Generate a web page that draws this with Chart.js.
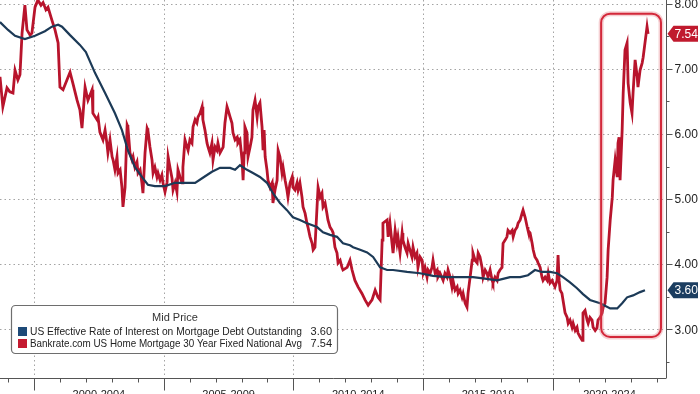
<!DOCTYPE html>
<html>
<head>
<meta charset="utf-8">
<script src="https://cdn.jsdelivr.net/npm/chart.js@4.4.0/dist/chart.umd.min.js"></script>
<style>
  html, body { margin: 0; padding: 0; background: #fff; }
  canvas { display: block; }
</style>
</head>
<body>
<canvas id="chart" width="700" height="394"></canvas>
<script>
// US effective rate of interest on mortgage debt outstanding (decimal years / %)
const effYears = [1998.69, 1999.00, 1999.27, 1999.65, 2000.04, 2000.42, 2000.69, 2000.93, 2001.08, 2001.39,
  2001.77, 2002.00, 2002.35, 2002.74, 2003.12, 2003.39, 2003.62, 2003.89, 2004.16, 2004.39,
  2004.66, 2005.05, 2005.44, 2005.82, 2006.21, 2006.48, 2006.86, 2007.17, 2007.56, 2007.75,
  2007.94, 2008.21, 2008.44, 2008.71, 2008.98, 2009.21, 2009.48, 2009.75, 2009.98, 2010.25,
  2010.52, 2010.91, 2011.14, 2011.41, 2011.68, 2011.91, 2012.18, 2012.30, 2012.57, 2012.84,
  2013.07, 2013.34, 2013.61, 2013.84, 2014.38, 2014.88, 2015.38, 2015.92, 2016.42, 2016.92,
  2017.31, 2017.85, 2018.35, 2018.74, 2019.04, 2019.31, 2019.58, 2019.89, 2020.16, 2020.39,
  2020.66, 2020.93, 2021.16, 2021.43, 2021.82, 2022.21, 2022.48, 2022.67, 2022.86, 2023.09,
  2023.36, 2023.55];
const effRates = [7.72, 7.60, 7.51, 7.46, 7.51, 7.58, 7.65, 7.68, 7.65, 7.52,
  7.37, 7.26, 6.94, 6.63, 6.32, 6.06, 5.75, 5.49, 5.34, 5.22,
  5.20, 5.20, 5.25, 5.25, 5.25, 5.32, 5.42, 5.48, 5.48, 5.45,
  5.52, 5.45, 5.40, 5.34, 5.25, 5.09, 4.94, 4.83, 4.72, 4.68,
  4.63, 4.57, 4.49, 4.45, 4.42, 4.32, 4.29, 4.26, 4.22, 4.18,
  4.11, 3.95, 3.91, 3.91, 3.88, 3.86, 3.82, 3.80, 3.80, 3.80,
  3.78, 3.75, 3.80, 3.80, 3.83, 3.91, 3.88, 3.88, 3.86, 3.80,
  3.72, 3.63, 3.54, 3.45, 3.40, 3.32, 3.32, 3.40, 3.49, 3.52,
  3.57, 3.60];

// Bankrate.com US home mortgage 30 year fixed national avg (decimal years / %)
const bankYears = [1998.69, 1998.80, 1998.96, 1999.07, 1999.19, 1999.27, 1999.38, 1999.46, 1999.54, 1999.65,
  1999.73, 1999.85, 1999.92, 2000.04, 2000.15, 2000.27, 2000.35, 2000.46, 2000.54, 2000.69,
  2000.81, 2000.93, 2001.00, 2001.12, 2001.27, 2001.39, 2001.50, 2001.66, 2001.77, 2001.85,
  2001.97, 2002.08, 2002.24, 2002.27, 2002.43, 2002.47, 2002.54, 2002.66, 2002.74, 2002.81,
  2002.85, 2002.93, 2003.01, 2003.05, 2003.12, 2003.20, 2003.24, 2003.32, 2003.39, 2003.43,
  2003.51, 2003.59, 2003.62, 2003.70, 2003.78, 2003.82, 2003.89, 2003.97, 2004.01, 2004.09,
  2004.16, 2004.20, 2004.28, 2004.36, 2004.39, 2004.47, 2004.55, 2004.59, 2004.66, 2004.74,
  2004.78, 2004.86, 2004.93, 2004.97, 2005.05, 2005.13, 2005.17, 2005.24, 2005.32, 2005.36,
  2005.44, 2005.51, 2005.55, 2005.63, 2005.71, 2005.74, 2005.82, 2005.90, 2005.94, 2006.01,
  2006.09, 2006.13, 2006.21, 2006.28, 2006.32, 2006.40, 2006.48, 2006.51, 2006.59, 2006.67,
  2006.71, 2006.78, 2006.86, 2006.90, 2006.98, 2007.05, 2007.09, 2007.17, 2007.29, 2007.36,
  2007.44, 2007.48, 2007.56, 2007.63, 2007.67, 2007.75, 2007.83, 2007.86, 2007.94, 2008.02,
  2008.06, 2008.10, 2008.13, 2008.21, 2008.25, 2008.33, 2008.40, 2008.44, 2008.52, 2008.60,
  2008.64, 2008.71, 2008.79, 2008.83, 2008.87, 2008.91, 2008.98, 2009.02, 2009.10, 2009.18,
  2009.21, 2009.29, 2009.37, 2009.41, 2009.48, 2009.56, 2009.60, 2009.68, 2009.75, 2009.79,
  2009.87, 2009.95, 2009.98, 2010.06, 2010.14, 2010.18, 2010.25, 2010.33, 2010.37, 2010.45,
  2010.52, 2010.56, 2010.64, 2010.72, 2010.76, 2010.83, 2010.91, 2010.95, 2011.03, 2011.10,
  2011.14, 2011.22, 2011.29, 2011.33, 2011.41, 2011.49, 2011.53, 2011.60, 2011.68, 2011.72,
  2011.80, 2011.87, 2011.91, 2012.07, 2012.18, 2012.26, 2012.37, 2012.49, 2012.64, 2012.76,
  2012.88, 2013.03, 2013.15, 2013.26, 2013.34, 2013.42, 2013.45, 2013.61, 2013.65, 2013.72,
  2013.80, 2013.84, 2013.92, 2013.99, 2014.03, 2014.11, 2014.19, 2014.22, 2014.30, 2014.38,
  2014.42, 2014.49, 2014.57, 2014.61, 2014.69, 2014.76, 2014.80, 2014.88, 2014.96, 2015.00,
  2015.07, 2015.15, 2015.19, 2015.27, 2015.34, 2015.38, 2015.46, 2015.54, 2015.57, 2015.65,
  2015.77, 2015.84, 2015.92, 2015.96, 2016.04, 2016.11, 2016.15, 2016.23, 2016.31, 2016.35,
  2016.42, 2016.50, 2016.54, 2016.62, 2016.69, 2016.73, 2016.81, 2016.89, 2016.92, 2017.00,
  2017.08, 2017.12, 2017.19, 2017.27, 2017.31, 2017.39, 2017.46, 2017.50, 2017.58, 2017.66,
  2017.69, 2017.77, 2017.85, 2017.89, 2017.96, 2018.04, 2018.08, 2018.16, 2018.23, 2018.27,
  2018.35, 2018.43, 2018.47, 2018.54, 2018.62, 2018.66, 2018.74, 2018.81, 2018.85, 2018.93,
  2019.01, 2019.04, 2019.12, 2019.20, 2019.24, 2019.31, 2019.39, 2019.43, 2019.51, 2019.58,
  2019.62, 2019.70, 2019.78, 2019.82, 2019.89, 2019.97, 2020.01, 2020.08, 2020.16, 2020.20,
  2020.24, 2020.28, 2020.35, 2020.39, 2020.47, 2020.55, 2020.59, 2020.66, 2020.74, 2020.78,
  2020.86, 2020.93, 2020.97, 2021.05, 2021.13, 2021.16, 2021.24, 2021.32, 2021.36, 2021.43,
  2021.51, 2021.55, 2021.63, 2021.70, 2021.74, 2021.82, 2021.90, 2021.94, 2022.01, 2022.09,
  2022.13, 2022.21, 2022.29, 2022.32, 2022.40, 2022.48, 2022.51, 2022.55, 2022.59, 2022.67,
  2022.71, 2022.78, 2022.86, 2022.90, 2022.98, 2023.05, 2023.09, 2023.17, 2023.25, 2023.28,
  2023.36, 2023.44, 2023.48, 2023.55, 2023.63, 2023.67];
const bankRates = [6.88, 6.42, 6.71, 6.65, 6.63, 6.98, 6.83, 6.91, 7.55, 7.98,
  7.60, 7.52, 7.55, 7.95, 8.06, 7.98, 8.02, 7.91, 7.95, 7.75,
  7.60, 7.40, 6.72, 6.68, 6.83, 6.95, 6.78, 6.52, 6.37, 6.09,
  6.72, 6.52, 6.68, 6.32, 6.22, 6.26, 6.03, 5.91, 6.06, 5.86,
  5.71, 5.91, 5.65, 5.60, 5.45, 5.65, 5.40, 5.45, 5.18, 4.88,
  5.18, 6.14, 6.11, 5.71, 5.60, 5.65, 5.49, 5.57, 5.40, 5.45,
  5.25, 5.09, 5.71, 6.09, 6.06, 5.80, 5.60, 5.40, 5.49, 5.34,
  5.40, 5.29, 5.37, 5.25, 5.11, 5.26, 5.65, 5.49, 5.32, 5.14,
  5.25, 5.11, 5.45, 5.34, 5.25, 5.49, 5.91, 5.80, 5.75, 5.91,
  5.86, 6.11, 6.22, 6.17, 6.26, 6.32, 6.42, 6.22, 6.06, 5.86,
  5.80, 5.71, 5.86, 5.60, 5.80, 5.75, 5.86, 5.71, 5.80, 6.17,
  6.42, 6.37, 6.26, 6.17, 6.02, 5.91, 5.95, 5.86, 5.91, 5.60,
  5.29, 5.71, 6.11, 6.02, 5.65, 5.80, 5.95, 6.37, 6.52, 6.26,
  6.42, 6.48, 6.11, 5.75, 6.06, 5.65, 5.45, 5.29, 5.18, 5.25,
  4.94, 5.14, 5.29, 5.75, 5.65, 5.40, 5.49, 5.29, 5.14, 5.03,
  5.25, 5.34, 5.18, 5.14, 5.25, 5.14, 5.25, 5.03, 4.88, 4.78,
  4.63, 4.57, 4.42, 4.32, 4.22, 4.26, 4.88, 5.18, 5.03, 5.09,
  4.88, 4.94, 4.78, 4.68, 4.57, 4.52, 4.48, 4.26, 4.17, 4.02,
  4.06, 3.95, 3.91, 3.95, 4.06, 3.91, 3.75, 3.65, 3.55, 3.45,
  3.37, 3.45, 3.60, 3.49, 3.45, 4.37, 4.63, 4.68, 4.42, 4.63,
  4.32, 4.17, 4.52, 4.32, 4.42, 4.17, 4.48, 4.37, 4.26, 4.17,
  4.32, 4.22, 4.11, 4.26, 4.11, 4.17, 3.95, 4.11, 4.06, 3.86,
  3.95, 3.80, 3.91, 3.86, 3.95, 4.06, 3.86, 3.91, 3.80, 3.86,
  3.75, 3.86, 3.80, 3.91, 3.80, 3.65, 3.75, 3.60, 3.65, 3.55,
  3.60, 3.49, 3.55, 3.40, 3.34, 3.55, 3.80, 4.06, 4.17, 4.06,
  4.02, 4.17, 4.11, 3.95, 3.80, 3.91, 3.86, 3.80, 3.91, 3.75,
  3.71, 3.80, 3.75, 3.86, 3.91, 3.95, 4.32, 4.37, 4.42, 4.52,
  4.48, 4.52, 4.42, 4.52, 4.57, 4.63, 4.68, 4.78, 4.83, 4.72,
  4.57, 4.52, 4.48, 4.32, 4.22, 4.11, 4.06, 4.02, 3.95, 3.80,
  3.75, 3.80, 3.75, 3.86, 3.71, 3.75, 3.71, 3.65, 3.75, 4.14,
  3.75, 3.60, 3.55, 3.45, 3.25, 3.18, 3.09, 3.14, 3.03, 3.09,
  2.98, 3.03, 2.94, 2.88, 2.83, 3.25, 3.29, 3.14, 3.09, 3.18,
  3.14, 3.03, 2.98, 3.02, 3.14, 3.18, 3.25, 3.34, 3.40, 3.80,
  4.22, 4.68, 5.03, 5.29, 5.60, 5.34, 5.86, 5.95, 5.29, 6.06,
  6.63, 7.29, 7.40, 6.78, 6.48, 6.32, 6.63, 7.14, 6.88, 6.72,
  6.98, 7.09, 7.18, 7.40, 7.65, 7.54];

const seriesNames = ["US Effective Rate of Interest on Mortgage Debt Outstanding",
  "Bankrate.com US Home Mortgage 30 Year Fixed National Avg"];
const lastValues = ["3.60", "7.54"];
const legendTitle = "Mid Price";
const yTicks = [3, 4, 5, 6, 7, 8];
const xBreaks = [2000, 2005, 2010, 2015, 2020];
const periodLabels = ["2000-2004", "2005-2009", "2010-2014", "2015-2019", "2020-2024"];
const highlightFrom = 2021.86;

const BLUE = "#1c3a57";
const RED = "#b8142c";
const FONT = '"Liberation Sans", Arial, sans-serif';

function toPoints(xs, ys) {
  return xs.map((x, i) => ({ x, y: ys[i] }));
}

function roundRect(ctx, x, y, w, h, r) {
  ctx.beginPath();
  ctx.moveTo(x + r, y);
  ctx.arcTo(x + w, y, x + w, y + h, r);
  ctx.arcTo(x + w, y + h, x, y + h, r);
  ctx.arcTo(x, y + h, x, y, r);
  ctx.arcTo(x, y, x + w, y, r);
  ctx.closePath();
}

function valueTag(ctx, left, py, text, color) {
  ctx.beginPath();
  ctx.moveTo(left + 1, py);
  ctx.lineTo(left + 7, py - 8);
  ctx.lineTo(698, py - 8);
  ctx.lineTo(698, py + 8);
  ctx.lineTo(left + 7, py + 8);
  ctx.closePath();
  ctx.fillStyle = color;
  ctx.fill();
  ctx.fillStyle = "#fff";
  ctx.font = "12px " + FONT;
  ctx.textAlign = "left";
  ctx.textBaseline = "middle";
  ctx.fillText(text, left + 8, py + 1);
}

const decor = {
  id: "decor",
  beforeDatasetsDraw(chart) {
    const { ctx, chartArea: a, scales: { x, y } } = chart;
    ctx.save();
    ctx.strokeStyle = "#a4a4a4";
    ctx.lineWidth = 1;
    ctx.setLineDash([1.5, 3]);
    yTicks.forEach(v => {
      const py = Math.round(y.getPixelForValue(v)) + 0.5;
      ctx.beginPath(); ctx.moveTo(a.left, py); ctx.lineTo(a.right, py); ctx.stroke();
    });
    xBreaks.forEach(v => {
      const px = Math.round(x.getPixelForValue(v)) + 0.5;
      ctx.beginPath(); ctx.moveTo(px, a.top); ctx.lineTo(px, a.bottom); ctx.stroke();
    });
    ctx.restore();
  },
  afterDatasetsDraw(chart) {
    const { ctx, chartArea: a, scales: { x, y } } = chart;
    ctx.save();

    // highlight box around the recent spike
    const hx = x.getPixelForValue(highlightFrom);
    const hTop = y.getPixelForValue(7.85), hBot = y.getPixelForValue(2.88);
    roundRect(ctx, hx, hTop, a.right - 5 - hx, hBot - hTop, 9);
    ctx.strokeStyle = "rgba(225,120,130,0.35)";
    ctx.lineWidth = 5;
    ctx.stroke();
    ctx.strokeStyle = "#d3283a";
    ctx.lineWidth = 2;
    ctx.stroke();

    // right axis
    const ax = Math.round(a.right) + 0.5;
    ctx.strokeStyle = "#555";
    ctx.lineWidth = 1;
    ctx.beginPath(); ctx.moveTo(ax, 0); ctx.lineTo(ax, a.bottom); ctx.stroke();
    for (let v = 2.5; v <= 8; v += 0.5) {
      const py = Math.round(y.getPixelForValue(v)) + 0.5;
      const len = Number.isInteger(v) ? 6 : 3;
      ctx.beginPath(); ctx.moveTo(ax, py); ctx.lineTo(ax + len, py); ctx.stroke();
    }
    ctx.fillStyle = "#222";
    ctx.font = "12px " + FONT;
    ctx.textAlign = "left";
    ctx.textBaseline = "middle";
    yTicks.forEach(v => ctx.fillText(v.toFixed(2), ax + 8, y.getPixelForValue(v) + 1));

    // bottom axis
    const by = Math.round(a.bottom) + 0.5;
    ctx.beginPath(); ctx.moveTo(0, by); ctx.lineTo(ax, by); ctx.stroke();
    for (let yr = 1999; yr <= 2024; yr++) {
      const px = Math.round(x.getPixelForValue(yr)) + 0.5;
      const len = xBreaks.includes(yr) ? 12 : 4;
      ctx.beginPath(); ctx.moveTo(px, by); ctx.lineTo(px, by + len); ctx.stroke();
    }
    ctx.font = "11px " + FONT;
    ctx.textAlign = "center";
    ctx.textBaseline = "top";
    periodLabels.forEach((lab, i) => {
      const l = x.getPixelForValue(xBreaks[i]);
      const r = i + 1 < xBreaks.length ? x.getPixelForValue(xBreaks[i + 1]) : a.right;
      ctx.fillText(lab, (l + r) / 2, by + 11);
    });

    // last value tags
    const effLast = effRates[effRates.length - 1];
    const bankLast = bankRates[bankRates.length - 1];
    valueTag(ctx, ax, y.getPixelForValue(bankLast), lastValues[1], "#c01a2e");
    valueTag(ctx, ax, y.getPixelForValue(effLast), lastValues[0], "#1b3d60");

    // legend box
    const lx = 11, ly = 305, lw = 326, lh = 48;
    roundRect(ctx, lx + 0.5, ly + 0.5, lw, lh, 4);
    ctx.fillStyle = "#fff";
    ctx.fill();
    ctx.strokeStyle = "#6e6e6e";
    ctx.lineWidth = 1.2;
    ctx.stroke();
    ctx.fillStyle = "#333";
    ctx.font = "11px " + FONT;
    ctx.textAlign = "center";
    ctx.textBaseline = "middle";
    ctx.fillText(legendTitle, lx + lw / 2 + 1, ly + 13);
    const colors = ["#1e4a78", "#c41a30"];
    seriesNames.forEach((name, i) => {
      const cy = ly + 26 + i * 12;
      ctx.fillStyle = colors[i];
      ctx.fillRect(lx + 7, cy - 4, 9, 9);
      ctx.fillStyle = "#222";
      ctx.textAlign = "left";
      ctx.fillText(name, lx + 19, cy + 1, 272);
      ctx.textAlign = "right";
      ctx.fillText(lastValues[i], lx + lw - 5, cy + 1);
    });
    ctx.restore();
  }
};

new Chart(document.getElementById("chart"), {
  type: "line",
  data: {
    datasets: [
      {
        label: seriesNames[0],
        data: toPoints(effYears, effRates),
        borderColor: BLUE,
        borderWidth: 2.2,
        pointRadius: 0,
        tension: 0
      },
      {
        label: seriesNames[1],
        data: toPoints(bankYears, bankRates),
        borderColor: RED,
        borderWidth: 2.8,
        pointRadius: 0,
        tension: 0
      }
    ]
  },
  options: {
    responsive: false,
    animation: false,
    layout: { padding: { left: 0, top: 0, right: 34, bottom: 16 } },
    scales: {
      x: { type: "linear", min: 1998.69, max: 2024.36, display: false },
      y: { min: 2.25, max: 8.06, display: false }
    },
    plugins: { legend: { display: false }, tooltip: { enabled: false } }
  },
  plugins: [decor]
});
</script>
</body>
</html>
